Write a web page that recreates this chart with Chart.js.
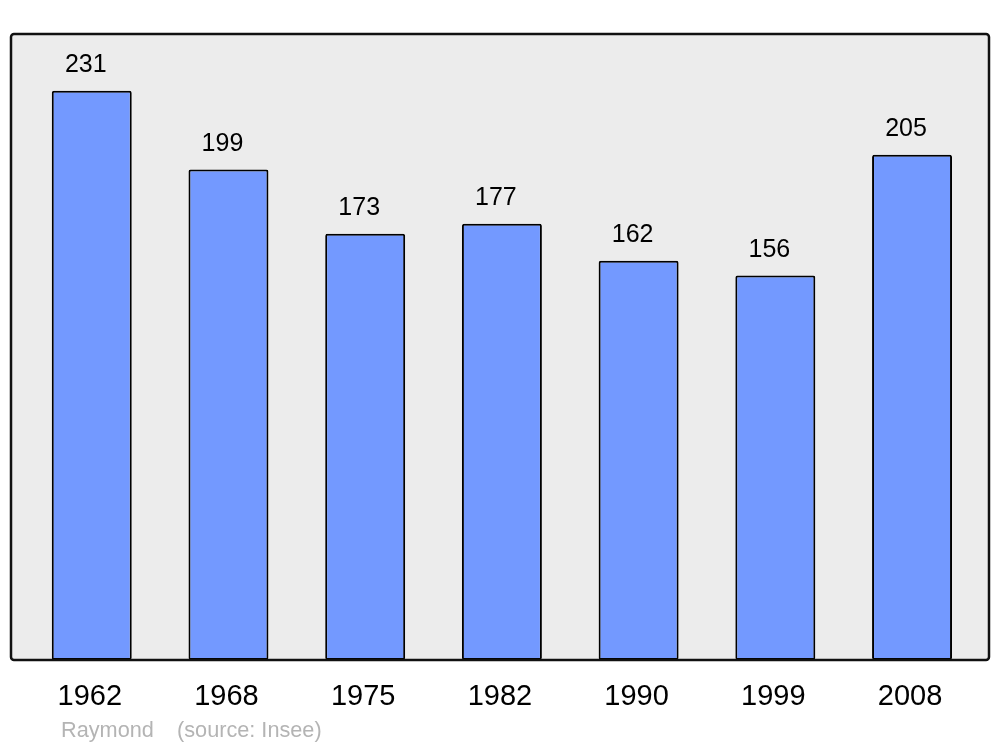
<!DOCTYPE html>
<html>
<head>
<meta charset="utf-8">
<script src="https://cdn.jsdelivr.net/npm/chart.js@4/dist/chart.umd.min.js"></script>
<style>
  html, body { margin: 0; padding: 0; background: #fff; }
  #wrap { width: 1000px; height: 747px; }
</style>
</head>
<body>
<div id="wrap"><canvas id="popChart" width="1000" height="747"></canvas></div>
<script>
const years = ['1962', '1968', '1975', '1982', '1990', '1999', '2008'];
const population = [231, 199, 173, 177, 162, 156, 205];
const yMax = 254;
const footerAuthor = 'Raymond';
const footerSource = '(source: Insee)';

const fontFam = '"Liberation Sans", Arial, sans-serif';

// cadre gris + textes
const decorPlugin = {
    id: 'decor',
    beforeDraw(chart) {
        const ctx = chart.ctx;
        const area = chart.chartArea;
        ctx.save();
        ctx.beginPath();
        ctx.roundRect(11, area.top, 978, area.bottom - area.top, 3);
        ctx.fillStyle = '#ececec';
        ctx.fill();
        ctx.restore();
    },
    afterDatasetsDraw(chart) {
        const ctx = chart.ctx;
        const area = chart.chartArea;
        ctx.save();
        ctx.beginPath();
        ctx.roundRect(11, area.top, 978, area.bottom - area.top, 3);
        ctx.lineWidth = 2.5;
        ctx.strokeStyle = '#111';
        ctx.stroke();

        const meta = chart.getDatasetMeta(0);
        ctx.fillStyle = '#000';
        ctx.textAlign = 'center';
        ctx.textBaseline = 'alphabetic';
        ctx.font = '25px ' + fontFam;
        meta.data.forEach((bar, i) => {
            ctx.fillText(String(population[i]), bar.x - 6, bar.y - 19);
        });

        const xs = chart.scales.x;
        ctx.font = '29px ' + fontFam;
        years.forEach((y, i) => {
            ctx.fillText(y, xs.getPixelForValue(i) - 2, 705);
        });

        ctx.textAlign = 'left';
        ctx.fillStyle = '#b4b4b4';
        ctx.font = '21.7px ' + fontFam;
        ctx.fillText(footerAuthor, 61, 737);
        ctx.fillText(footerSource, 177, 737);
        ctx.restore();
    }
};

const ctx = document.getElementById('popChart').getContext('2d');
const popChart = new Chart(ctx, {
    type: 'bar',
    data: {
        labels: years,
        datasets: [{
            data: population,
            backgroundColor: '#7399ff',
            borderColor: '#000',
            borderWidth: 2,
            borderRadius: 2,
            borderSkipped: false,
            barPercentage: 0.585,
            categoryPercentage: 1
        }]
    },
    options: {
        responsive: false,
        animation: false,
        layout: {
            padding: { left: 23.4, right: 19.6, top: 34, bottom: 87 }
        },
        scales: {
            x: { display: false },
            y: { display: false, min: 0, max: yMax }
        },
        plugins: {
            legend: { display: false },
            tooltip: { enabled: false }
        }
    },
    plugins: [decorPlugin]
});
</script>
</body>
</html>
